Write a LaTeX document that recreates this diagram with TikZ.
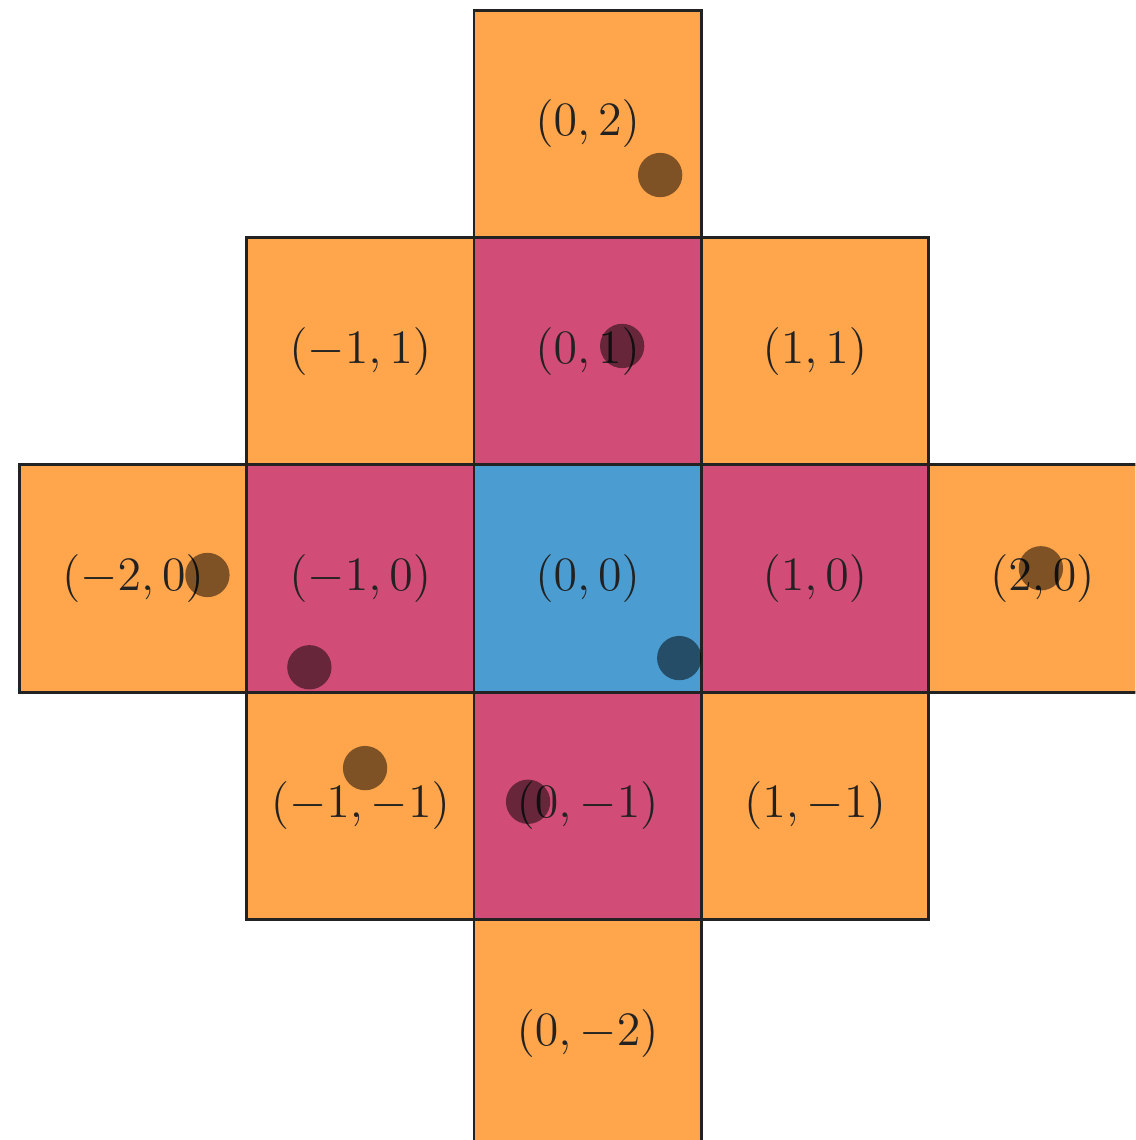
\documentclass[tikz,border=0pt]{standalone}
\usepackage{xcolor}
\usepackage{amsmath, amssymb}
\usepackage{tikz}
\usetikzlibrary{positioning}
\definecolor{cellorange}{HTML}{FFA54B}
\definecolor{cellpink}{HTML}{D14D77}
\definecolor{cellblue}{HTML}{4B9CD0}
\definecolor{cellline}{HTML}{222222}
\tikzset{
  cell/.style={draw=cellline, line width=0.7pt, minimum width=2cm, minimum height=2cm,
               inner sep=0pt, outer sep=0pt, text=cellline,
               font=\fontsize{11.9}{14}\selectfont},
  far/.style={cell, fill=cellorange},
  near/.style={cell, fill=cellpink},
  home/.style={cell, fill=cellblue},
  pt/.style={circle, fill=black, fill opacity=0.5, minimum size=0.39cm, inner sep=0pt}
}

\begin{document}
\begin{tikzpicture}
        \clip (-5.17, -4.94) rectangle (4.818, 5.09);
        \useasboundingbox (-5.17, -4.94) rectangle (4.818, 5.09);

        \node[far] (c02) at (0, 4) {$(0,2)$};
        \node[far] (cm11) at (-2, 2) {$(-1,1)$};
        \node[near] (c01) at (0, 2) {$(0,1)$};
        \node[far] (c11) at (2, 2) {$(1,1)$};
        \node[far] (cm20) at (-4, 0) {$(-2,0)$};
        \node[near] (cm10) at (-2, 0) {$(-1,0)$};
        \node[home] (c00) at (0, 0) {$(0,0)$};
        \node[near] (c10) at (2, 0) {$(1,0)$};
        \node[far] (c20) at (4, 0) {$(2,0)$};
        \node[far] (cm1m1) at (-2, -2) {$(-1,-1)$};
        \node[near] (c0m1) at (0, -2) {$(0,-1)$};
        \node[far] (c1m1) at (2, -2) {$(1,-1)$};
        \node[far] (c0m2) at (0, -4) {$(0,-2)$};

        \node[pt] (p02) at (0.638, 3.55) {};
        \node[pt] (p01) at (0.304, 2.046) {};
        \node[pt] (pm20) at (-3.345, 0.031) {};
        \node[pt] (p20) at (3.988, 0.09) {};
        \node[pt] (pm10) at (-2.448, -0.781) {};
        \node[pt] (p00) at (0.806, -0.70) {};
        \node[pt] (pm1m1) at (-1.958, -1.668) {};
        \node[pt] (p0m1) at (-0.524, -1.964) {};
      \end{tikzpicture}
\end{document}
